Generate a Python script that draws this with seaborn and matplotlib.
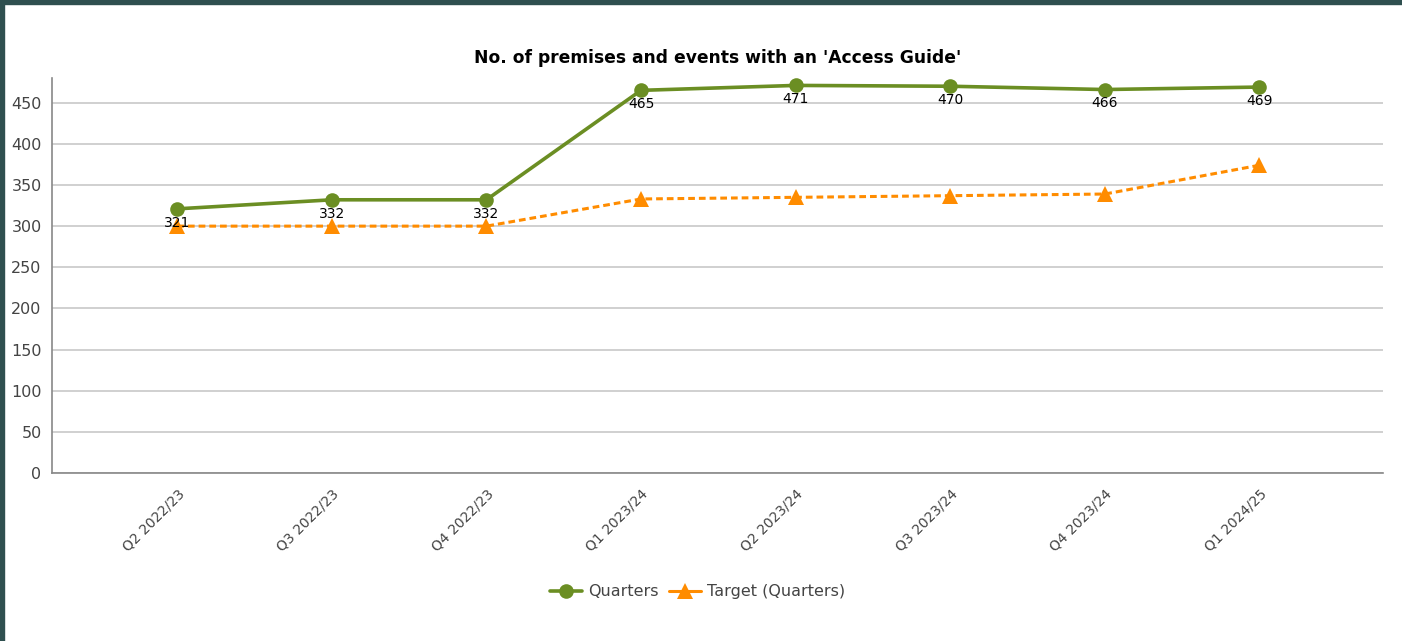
import matplotlib.pyplot as plt
import seaborn as sns
import pandas as pd
import numpy as np

quarters = ["Q2 2022/23", "Q3 2022/23", "Q4 2022/23", "Q1 2023/24",
            "Q2 2023/24", "Q3 2023/24", "Q4 2023/24", "Q1 2024/25"]
actual = [321, 332, 332, 465, 471, 470, 466, 469]
target = [300, 300, 300, 333, 335, 337, 339, 374]

green = "#6b8e23"
orange = "#ff8c00"

sns.set_style("white")
plt.rcParams["font.family"] = ["DejaVu Sans"]

df = pd.DataFrame({"pos": np.arange(len(quarters)), "actual": actual, "target": target})

fig = plt.figure(figsize=(14.02, 6.41), dpi=100)
ax = fig.add_axes([0.0371, 0.2621, 0.9494, 0.6162])

sns.lineplot(data=df, x="pos", y="actual", color=green, linewidth=2.6,
             marker="o", markersize=10.5, markeredgewidth=0, label="Quarters", ax=ax)
sns.lineplot(data=df, x="pos", y="target", color=orange, linewidth=2.2,
             marker="^", markersize=12, markeredgewidth=0, label="Target (Quarters)", ax=ax)
ax.lines[1].set_dashes([2.2, 1.3])

for x, v in zip(df["pos"], actual):
    ax.annotate(str(v), (x, v), xytext=(0, -5), textcoords="offset points",
                ha="center", va="top", fontsize=10, color="black")

ax.set_xlim(-0.81, 7.8)
ax.set_ylim(0, 480)
ax.set_yticks(range(0, 451, 50))
ax.set_xticks(df["pos"])
ax.set_xticklabels(quarters, rotation=45, ha="right", rotation_mode="anchor",
                   fontsize=10, color="#444444")
ax.tick_params(axis="y", labelsize=11.5, labelcolor="#444444", length=4, color="#888888")
ax.tick_params(axis="x", length=4, color="#888888", pad=6)
ax.set_xlabel("")
ax.set_ylabel("")
ax.grid(axis="y", color="#c8c8c8", linewidth=1.2)
ax.set_axisbelow(True)
for s in ["top", "right"]:
    ax.spines[s].set_visible(False)
for s in ["left", "bottom"]:
    ax.spines[s].set_color("#888888")
    ax.spines[s].set_linewidth(1.2)

ax.set_title("No. of premises and events with an 'Access Guide'",
             fontsize=12.3, fontweight="bold", color="black", pad=11)

leg = ax.legend(loc="upper center", bbox_to_anchor=(0.485, -0.245), ncol=2, frameon=False,
                fontsize=11.5, handlelength=2.0, columnspacing=0.6, handletextpad=0.4,
                labelcolor="#444444")
# legend handle for the target is drawn solid in the original
leg.get_lines()[1].set_linestyle("-")

# dark frame on the top and left edges
fig.add_artist(plt.Rectangle((0, 1 - 4 / 641), 1, 4 / 641, transform=fig.transFigure,
                             color="#2f4f4f", zorder=10))
fig.add_artist(plt.Rectangle((0, 0), 4 / 1402, 1, transform=fig.transFigure,
                             color="#2f4f4f", zorder=10))

fig.savefig("out.png", dpi=100, facecolor="white")
